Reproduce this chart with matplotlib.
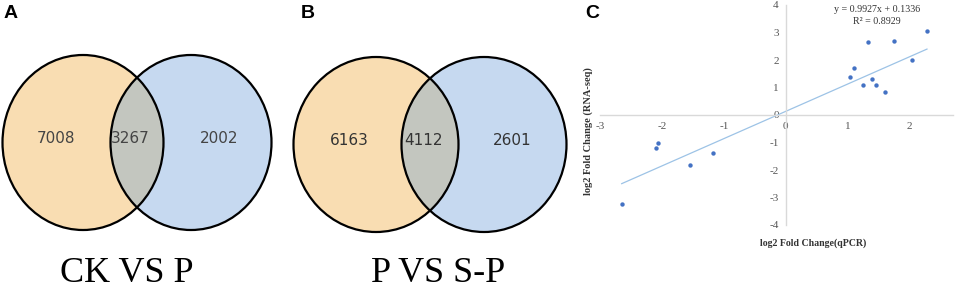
import numpy as np
import matplotlib.pyplot as plt
from matplotlib.patches import Ellipse

plt.rcParams["axes.unicode_minus"] = False

# Venn counts: left only, shared, right only
venn_a = [7008, 3267, 2002]
venn_b = [6163, 4112, 2601]
venn_titles = ["CK VS P", "P VS S-P"]

# qPCR vs RNA-seq log2 fold changes
qpcr = [2.28, 1.74, 1.33, 2.04, 1.10, 1.03, 1.39, 1.24, 1.45, 1.60,
        -2.06, -2.10, -1.54, -1.17, -2.65]
rnaseq = [3.05, 2.70, 2.64, 2.00, 1.71, 1.38, 1.32, 1.09, 1.09, 0.84,
          -1.03, -1.19, -1.83, -1.38, -3.25]
slope, intercept, r2 = 0.9927, 0.1336, 0.8929

orange = "#F9DDB2"
blue = "#C6D9F0"
grey = "#C3C6BF"

fig = plt.figure(figsize=(9.55, 2.88), dpi=100)

# venn panels drawn in pixel space
vax = fig.add_axes([0, 0, 1, 1])
vax.set_xlim(0, 955)
vax.set_ylim(288, 0)
vax.axis("off")

def venn(cx_left, cx_right, cy, w, h, counts, title, tx, numcol):
    left = Ellipse((cx_left, cy), w, h, facecolor=orange, edgecolor="none")
    right = Ellipse((cx_right, cy), w, h, facecolor=blue, edgecolor="none")
    vax.add_patch(left)
    vax.add_patch(right)
    mid = Ellipse((cx_left, cy), w, h, facecolor=grey, edgecolor="none")
    vax.add_patch(mid)
    clip = Ellipse((cx_right, cy), w, h, transform=vax.transData)
    mid.set_clip_path(clip)
    for c in (cx_left, cx_right):
        vax.add_patch(Ellipse((c, cy), w, h, facecolor="none",
                              edgecolor="black", lw=1.6))
    xs = [cx_left - 27, (cx_left + cx_right) / 2 - 7, cx_right + 28]
    for x, n in zip(xs, counts):
        vax.text(x, cy - 4, str(n), ha="center", va="center", fontsize=11,
                 color=numcol, family="DejaVu Sans")
    vax.text(tx, 273, title, ha="center", va="center", fontsize=26,
             family="Liberation Serif")

venn(83, 191, 142.5, 161, 175, venn_a, venn_titles[0], 127, "#444444")
venn(376, 484, 144.5, 165, 175, venn_b, venn_titles[1], 438, "#333333")

for lab, x in zip("ABC", [4, 301, 585]):
    fig.text(x / 955, 1 - 14 / 288, lab, fontsize=14, fontweight="bold",
             family="Liberation Sans", va="center", ha="left")

# scatter panel
ax = fig.add_axes([600 / 955, 63 / 288, 353 / 955, 220 / 288])
ax.set_xlim(-3, 2.7)
ax.set_ylim(-4, 4)
ax.patch.set_alpha(0)
ax.spines["left"].set_position("zero")
ax.spines["bottom"].set_position("zero")
ax.spines["right"].set_visible(False)
ax.spines["top"].set_visible(False)
for s in ("left", "bottom"):
    ax.spines[s].set_color("#D9D9D9")
    ax.spines[s].set_linewidth(1)
ax.set_xticks([-3, -2, -1, 0, 1, 2])
ax.set_yticks(range(-4, 5))
ax.tick_params(length=0, labelsize=8, colors="#555555", pad=5)
for t in ax.get_xticklabels() + ax.get_yticklabels():
    t.set_family("Liberation Serif")

xfit = np.array([min(qpcr), max(qpcr)])
ax.plot(xfit, slope * xfit + intercept, color="#9DC3E6", lw=0.9)
ax.scatter(qpcr, rnaseq, s=10, color="#4472C4", zorder=3, linewidths=0)

fig.text(877 / 955, 1 - 10 / 288, f"y = {slope}x + {intercept}",
         ha="center", va="center", fontsize=7.2, family="Liberation Serif",
         color="#333333")
fig.text(877 / 955, 1 - 22 / 288, f"R\u00b2 = {r2}",
         ha="center", va="center", fontsize=7.2, family="Liberation Serif",
         color="#333333")
fig.text(588 / 955, 1 - 131 / 288, "log2 Fold Change (RNA-seq)", rotation=90,
         ha="center", va="center", fontsize=7.5, fontweight="bold",
         family="Liberation Serif", color="#333333")
fig.text(813 / 955, 1 - 243 / 288, "log2 Fold Change(qPCR)",
         ha="center", va="center", fontsize=7.1, fontweight="bold",
         family="Liberation Serif", color="#333333")

plt.savefig("out.png", dpi=100)
